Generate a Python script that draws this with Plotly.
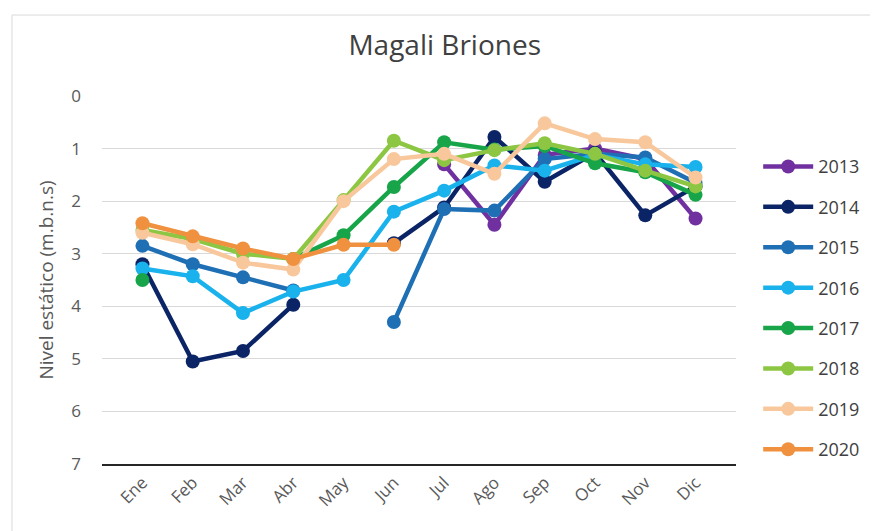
import plotly.graph_objects as go

months = ["Ene", "Feb", "Mar", "Abr", "May", "Jun", "Jul", "Ago", "Sep", "Oct", "Nov", "Dic"]
years = ["2013", "2014", "2015", "2016", "2017", "2018", "2019", "2020"]

v2013 = [None, None, None, None, None, None, 1.3, 2.45, 1.12, 1.0, 1.2, 2.33]
v2014 = [3.2, 5.05, 4.85, 3.97, None, 2.8, 2.12, 0.78, 1.63, 1.08, 2.27, 1.72]
v2015 = [2.85, 3.2, 3.45, 3.7, None, 4.3, 2.15, 2.18, 1.2, 1.1, 1.17, 1.65]
v2016 = [3.28, 3.43, 4.13, 3.72, 3.5, 2.2, 1.8, 1.32, 1.42, 1.12, 1.3, 1.35]
v2017 = [3.5, None, None, 3.1, 2.65, 1.73, 0.88, 1.02, 0.95, 1.28, 1.45, 1.88]
v2018 = [2.55, 2.72, 3.0, 3.1, 1.98, 0.85, 1.22, 1.03, 0.9, 1.1, 1.42, 1.72]
v2019 = [2.6, 2.82, 3.17, 3.3, 2.0, 1.2, 1.1, 1.48, 0.52, 0.82, 0.88, 1.55]
v2020 = [2.42, 2.67, 2.9, 3.1, 2.83, 2.83, None, None, None, None, None, None]

series = [v2013, v2014, v2015, v2016, v2017, v2018, v2019, v2020]
colors = ["#7030a0", "#0b2466", "#1f6fb5", "#19b2ec", "#18a54a", "#8dc643", "#f8c89c", "#f0913f"]

fig = go.Figure()
for name, vals, col in zip(years, series, colors):
    fig.add_trace(go.Scatter(
        x=months, y=vals, name=name, mode="lines+markers",
        line=dict(color=col, width=4.5),
        marker=dict(color=col, size=14),
        connectgaps=False, legendgroup=name,
    ))

# page has an 8px body offset; figure is sized to fill the rest of the window
W, H = 870, 523
L, T = 94, 88
PW, PH = 634, 368

fig.update_layout(
    width=W, height=H,
    paper_bgcolor="white", plot_bgcolor="white",
    margin=dict(l=L, r=W - L - PW, t=T, b=H - T - PH, autoexpand=False),
    font=dict(family="Open Sans, sans-serif", color="#595959", size=17),
    title=dict(text="Magali Briones", x=0.502, xref="container", xanchor="center",
               y=0.929, yref="container", yanchor="middle",
               font=dict(size=28, color="#404040")),
    showlegend=True,
    legend=dict(x=1.035, y=0.858, xanchor="left", yanchor="top",
                font=dict(size=18, color="#404040"), tracegroupgap=14,
                itemwidth=50),
    xaxis=dict(type="category", tickangle=-45, showgrid=False, showline=True,
               linecolor="#262626", linewidth=2, ticks="", tickfont=dict(size=17),
               ticklabelstandoff=0, automargin=False),
    yaxis=dict(range=[7, 0], dtick=1, showgrid=True, gridcolor="#d9d9d9", gridwidth=1,
               zeroline=False, showline=False, ticks="", ticklabelstandoff=20,
               title=dict(text="Nivel estático (m.b.n.s)", font=dict(size=19), standoff=12),
               tickfont=dict(size=17), automargin=False),
    shapes=[dict(type="rect", xref="paper", yref="paper", x0=-0.142, x1=1.3,
                 y0=-0.3, y1=1.22, line=dict(color="#d9d9d9", width=1), layer="below")],
)

fig.write_html("out.html")
